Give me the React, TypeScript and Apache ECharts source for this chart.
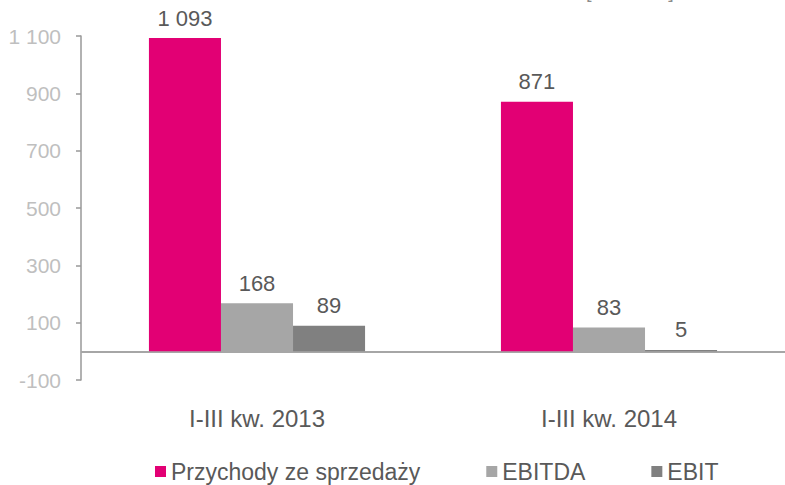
import React, { useEffect, useRef } from "react";
import * as echarts from "echarts";

const categories = ["I-III kw. 2013", "I-III kw. 2014"];
const seriesNames = ["Przychody ze sprzedaży", "EBITDA", "EBIT"];
const revenue = [1093, 871];
const ebitda = [168, 83];
const ebit = [89, 5];
const seriesColors = ["#E20074", "#A6A6A6", "#808080"];
const unitLabel = "[mln PLN]";

const FONT = "'Liberation Sans', Arial, sans-serif";

const fmt = (v: number) => {
  const s = String(Math.abs(v));
  const withSep = s.replace(/\B(?=(\d{3})+(?!\d))/g, " ");
  return (v < 0 ? "-" : "") + withSep;
};

export default function App() {
  const ref = useRef<HTMLDivElement>(null);
  useEffect(() => {
    if (!ref.current) return;
    const chart = echarts.init(ref.current, null, { renderer: "svg" });
    const values = [revenue, ebitda, ebit];
    const series: any[] = values.map((d, i) => ({
      name: seriesNames[i],
      type: "bar",
      data: d,
      itemStyle: { color: seriesColors[i] },
      barGap: "0%",
      barCategoryGap: "38.6%",
      label: {
        show: true,
        position: "top",
        distance: 9,
        color: "#595959",
        fontSize: 22,
        fontFamily: FONT,
        formatter: (p: any) => fmt(p.value),
      },
    }));
    series[0].markLine = {
      silent: true,
      symbol: "none",
      label: { show: false },
      lineStyle: { color: "#A6A6A6", width: 2, type: "solid" },
      data: [{ yAxis: 0 }],
      z: 1,
    };
    chart.setOption({
      animation: false,
      textStyle: { fontFamily: FONT },
      grid: { left: 81, width: 708, top: 36, height: 344, containLabel: false },
      legend: {
        left: 150,
        top: 455,
        icon: "rect",
        itemWidth: 11,
        itemHeight: 11,
        itemGap: 66,
        textStyle: { fontSize: 23, color: "#595959", fontFamily: FONT },
        data: seriesNames,
      },
      xAxis: {
        type: "category",
        data: categories,
        position: "bottom",
        axisLine: { show: false, onZero: false },
        axisTick: { show: false },
        axisLabel: { color: "#595959", fontSize: 24, margin: 26, fontFamily: FONT },
      },
      yAxis: {
        type: "value",
        min: -100,
        max: 1100,
        interval: 200,
        splitLine: { show: false },
        axisLine: { show: true, lineStyle: { color: "#999999", width: 1.5 } },
        axisTick: { show: true, length: 5, lineStyle: { color: "#999999", width: 1.5 } },
        axisLabel: {
          color: "#BFBFBF",
          fontSize: 21,
          margin: 20,
          fontFamily: FONT,
          formatter: (v: number) => fmt(v),
        },
      },
      graphic: [
        {
          type: "text",
          left: 586,
          top: -19,
          style: {
            text: unitLabel,
            fill: "#8C8C8C",
            fontSize: 20,
            fontFamily: FONT,
          },
        },
      ],
      series,
    });
    return () => chart.dispose();
  }, []);
  return (
    <div
      ref={ref}
      style={{ position: "fixed", left: 0, top: 0, width: 785, height: 485, background: "#fff" }}
    />
  );
}
